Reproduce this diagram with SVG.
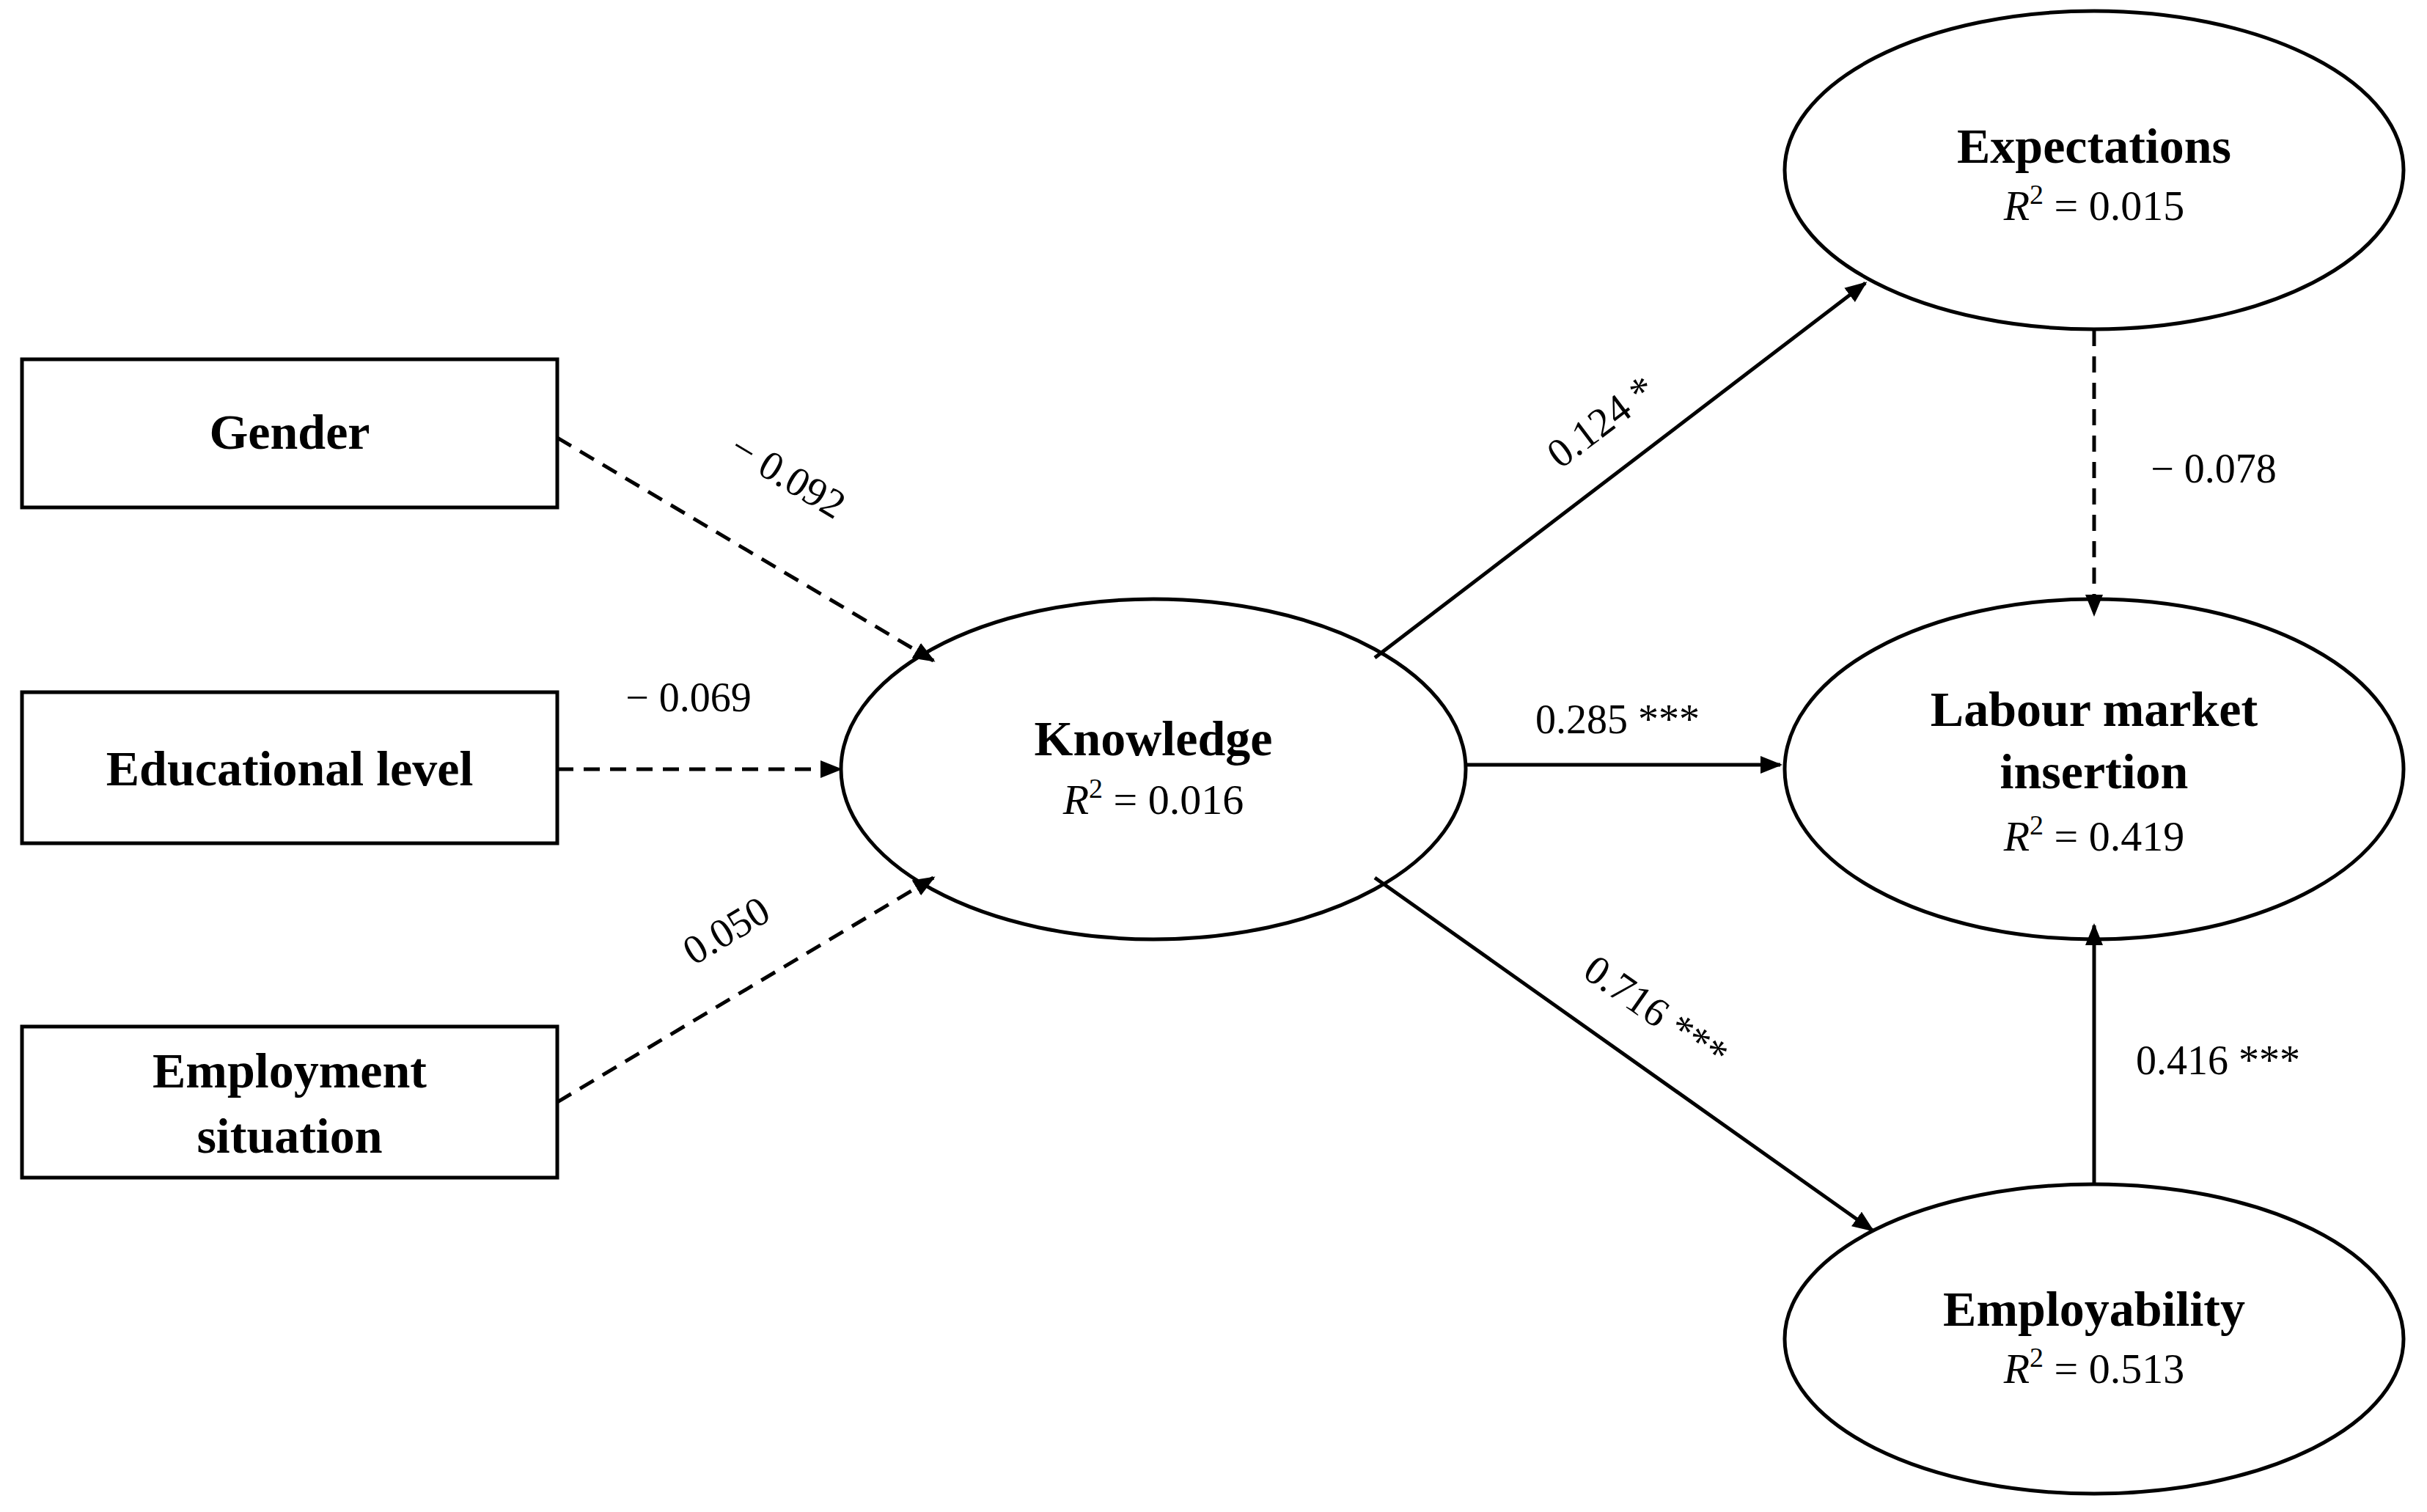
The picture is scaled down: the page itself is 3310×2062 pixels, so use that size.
<svg xmlns="http://www.w3.org/2000/svg" width="3310" height="2062" viewBox="0 0 3310 2062">
<style>
.n{fill:#fff;stroke:#000;stroke-width:5}
.t{font-family:"Liberation Serif",serif;font-weight:bold;font-size:68px;text-anchor:middle}
.r{font-family:"Liberation Serif",serif;font-size:58px;text-anchor:middle}
.l{font-family:"Liberation Serif",serif;font-size:56px;text-anchor:middle}
.s{stroke:#000;stroke-width:5;fill:none}
.d{stroke-dasharray:22 14}
</style>
<defs><marker id="a" viewBox="0 0 10 10" refX="9" refY="5" markerWidth="6" markerHeight="6" orient="auto" markerUnits="strokeWidth"><path d="M0,1 L10,5 L0,9 z" fill="#000"/></marker></defs>
<rect width="3310" height="2062" fill="#fff"/>
<g id="gender"><rect class="n" x="30" y="490" width="730" height="202"/><text class="t" x="395" y="612">Gender</text></g>
<g id="edu"><rect class="n" x="30" y="944" width="730" height="206"/><text class="t" x="395" y="1071">Educational level</text></g>
<g id="emp"><rect class="n" x="30" y="1400" width="730" height="206"/><text class="t" x="395" y="1483">Employment</text><text class="t" x="395" y="1572">situation</text></g>
<g id="knowledge"><ellipse class="n" cx="1573" cy="1049" rx="426" ry="232"/><text class="t" x="1573" y="1030">Knowledge</text><text class="r" x="1573" y="1110"><tspan font-style="italic">R</tspan><tspan dy="-22" font-size="38">2</tspan><tspan dy="22"> = 0.016</tspan></text></g>
<g id="expectations"><ellipse class="n" cx="2856" cy="232" rx="422" ry="217"/><text class="t" x="2856" y="222">Expectations</text><text class="r" x="2856" y="300"><tspan font-style="italic">R</tspan><tspan dy="-22" font-size="38">2</tspan><tspan dy="22"> = 0.015</tspan></text></g>
<g id="labour"><ellipse class="n" cx="2856" cy="1049" rx="422" ry="232"/><text class="t" x="2856" y="990">Labour market</text><text class="t" x="2856" y="1075">insertion</text><text class="r" x="2856" y="1160"><tspan font-style="italic">R</tspan><tspan dy="-22" font-size="38">2</tspan><tspan dy="22"> = 0.419</tspan></text></g>
<g id="employability"><ellipse class="n" cx="2856" cy="1826" rx="422" ry="211"/><text class="t" x="2856" y="1808">Employability</text><text class="r" x="2856" y="1886"><tspan font-style="italic">R</tspan><tspan dy="-22" font-size="38">2</tspan><tspan dy="22"> = 0.513</tspan></text></g>
<g id="connectors">
<line class="s d" x1="760" y1="597" x2="1273" y2="901" marker-end="url(#a)"/>
<line class="s d" x1="760" y1="1049" x2="1146" y2="1049" marker-end="url(#a)"/>
<line class="s d" x1="760" y1="1503" x2="1273" y2="1197" marker-end="url(#a)"/>
<line class="s" x1="1875" y1="897" x2="2544" y2="386" marker-end="url(#a)"/>
<line class="s" x1="1999" y1="1043" x2="2428" y2="1043" marker-end="url(#a)"/>
<line class="s" x1="1875" y1="1197" x2="2554" y2="1678" marker-end="url(#a)"/>
<line class="s d" x1="2856" y1="450" x2="2856" y2="838" marker-end="url(#a)"/>
<line class="s" x1="2856" y1="1615" x2="2856" y2="1262" marker-end="url(#a)"/>
<text class="l" transform="translate(1065,665) rotate(31)">− 0.092</text>
<text class="l" x="939" y="970">− 0.069</text>
<text class="l" transform="translate(1000,1285) rotate(-31)">0.050</text>
<text class="l" transform="translate(2195,590) rotate(-37)">0.124 *</text>
<text class="l" x="2206" y="1000">0.285 ***</text>
<text class="l" transform="translate(2248,1395) rotate(35)">0.716 ***</text>
<text class="l" x="3019" y="658">− 0.078</text>
<text class="l" x="3025" y="1465">0.416 ***</text>
</g>
</svg>
